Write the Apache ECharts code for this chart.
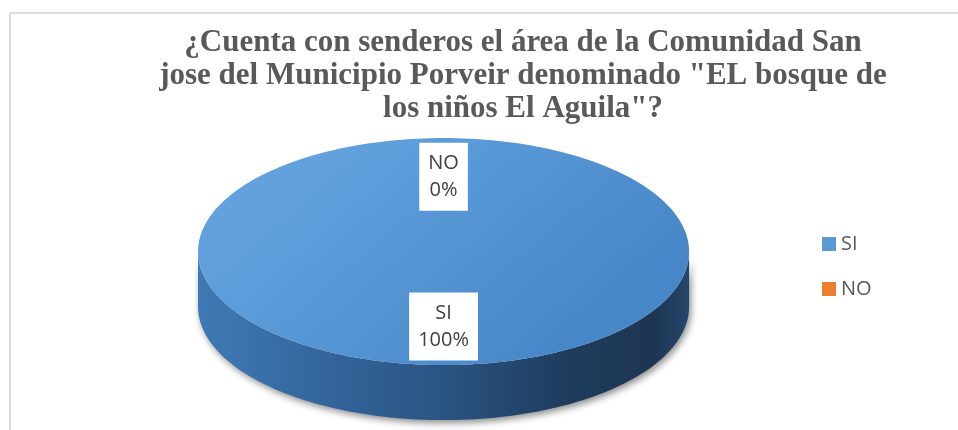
<!DOCTYPE html>
<html>
<head>
<meta charset="utf-8">
<script src="https://cdn.jsdelivr.net/npm/echarts@6/dist/echarts.min.js"></script>
<style>
html,body{margin:0;padding:0;background:#fff;}
#frame{position:absolute;left:9px;top:12px;width:960px;height:440px;border-left:2px solid #dcdcdc;border-top:2px solid #dcdcdc;}
#main{position:absolute;left:0;top:0;width:958px;height:430px;}
</style>
</head>
<body>
<div id="frame"></div>
<div id="main"></div>
<script>
// datos
var categories = ['SI', 'NO'];
var values = [100, 0];
var sliceColors = ['#5B9BD5', '#ED7D31'];
var titleText = '¿Cuenta con senderos el área de la Comunidad San\njose del Municipio Porveir denominado "EL bosque de\nlos niños El Aguila"?';

var total = 0;
for (var i = 0; i < values.length; i++) total += values[i];

function renderSlice(params, api) {
    var idx = params.seriesIndex;
    var before = 0;
    for (var k = 0; k < idx; k++) before += values[k];
    // excel: empieza a las 12, sentido horario
    var start = before / total * 360;
    var end = start + values[idx] / total * 360;

    var w = api.getWidth(), h = api.getHeight();
    var cx = w * 0.463, cy = h * 0.585;
    var rx = w * 0.2563, ry = h * 0.264, depth = h * 0.128;

    function pt(theta, dy) {
        var r = theta * Math.PI / 180;
        return [cx + rx * Math.sin(r), cy - ry * Math.cos(r) + (dy || 0)];
    }
    function arc(a, b, dy) {
        var pts = [];
        var n = Math.max(2, Math.ceil((b - a) / 1.5));
        for (var j = 0; j <= n; j++) pts.push(pt(a + (b - a) * j / n, dy));
        return pts;
    }

    var children = [];

    // lado (parte frontal visible 90..270)
    var a = Math.max(start, 90), b = Math.min(end, 270);
    if (b > a) {
        var top = arc(a, b, 0);
        var bottom = arc(a, b, depth).reverse();
        children.push({
            type: 'polygon',
            z2: 1,
            shape: { points: top.concat(bottom) },
            style: {
                fill: idx === 0 ? {
                    type: 'linear', x: 0, y: 0, x2: 1, y2: 0,
                    colorStops: [
                        { offset: 0, color: '#3f7ab6' },
                        { offset: 0.25, color: '#33669c' },
                        { offset: 0.5, color: '#2a5482' },
                        { offset: 0.75, color: '#1f3c5d' },
                        { offset: 0.93, color: '#1d3652' },
                        { offset: 1, color: '#25466b' }
                    ]
                } : '#b45f22',
                shadowBlur: 7,
                shadowColor: 'rgba(0,0,0,0.45)',
                shadowOffsetX: 2,
                shadowOffsetY: 3
            }
        });
    }

    // cara superior
    if (end > start) {
        children.push({
            type: 'polygon',
            z2: 5,
            shape: { points: [[cx, cy]].concat(arc(start, end, 0)) },
            style: {
                fill: idx === 0 ? {
                    type: 'linear', x: 0.3, y: 0, x2: 0.7, y2: 1,
                    colorStops: [
                        { offset: 0, color: '#62a1de' },
                        { offset: 1, color: '#4787c8' }
                    ]
                } : sliceColors[idx]
            }
        });
    }

    // etiqueta
    var mid = (start + end) / 2;
    var lp = [cx + 0.66 * rx * Math.sin(mid * Math.PI / 180), cy - 0.66 * ry * Math.cos(mid * Math.PI / 180)];
    children.push({
        type: 'text',
        z2: 10,
        style: {
            text: categories[idx] + '\n' + Math.round(values[idx] / total * 100) + '%',
            x: lp[0],
            y: lp[1],
            align: 'center',
            verticalAlign: 'middle',
            fontSize: 20,
            fontFamily: 'Open Sans',
            lineHeight: 27,
            fill: '#404040',
            backgroundColor: '#fff',
            padding: [7, 9]
        }
    });

    return { type: 'group', children: children };
}

var series = [];
for (var s = 0; s < categories.length; s++) {
    series.push({
        name: categories[s],
        type: 'custom',
        coordinateSystem: 'none',
        itemStyle: { color: sliceColors[s] },
        renderItem: renderSlice,
        data: [[values[s]]]
    });
}

var myChart = echarts.init(document.getElementById('main'));
myChart.setOption({
    animation: false,
    title: {
        text: titleText,
        left: 518,
        top: 21,
        textAlign: 'center',
        textStyle: {
            fontFamily: 'Liberation Serif',
            fontWeight: 'bold',
            fontSize: 31,
            lineHeight: 33,
            color: '#595959'
        }
    },
    legend: {
        data: categories,
        orient: 'vertical',
        left: 817,
        top: 229,
        itemWidth: 14,
        itemHeight: 14,
        itemGap: 25,
        icon: 'rect',
        textStyle: { fontSize: 20, fontFamily: 'Open Sans', color: '#595959' }
    },
    series: series
});
</script>
</body>
</html>
